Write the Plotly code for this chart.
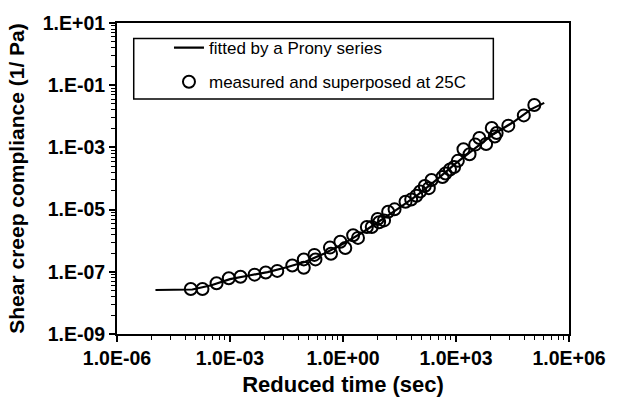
import plotly.graph_objects as go

# Prony-series fit of the shear creep compliance master curve
fit_time = [1.05e-5, 1.0e-4, 3.2e-4, 1.0e-3, 3.2e-3, 1.0e-2, 3.2e-2, 0.1, 0.32, 1.0,
            3.2, 10.0, 32.0, 100.0, 320.0, 1.0e3, 3.2e3, 1.0e4, 3.2e4, 1.0e5, 2.2e5]
fit_compliance = [2.6e-8, 2.7e-8, 3.7e-8, 5.8e-8, 7.6e-8, 9.8e-8, 1.4e-7, 2.1e-7, 3.9e-7, 7.9e-7,
                  1.8e-6, 4.4e-6, 1.15e-5, 3.1e-5, 9.5e-5, 3.1e-4, 9.3e-4, 2.7e-3, 6.3e-3, 1.7e-2, 2.7e-2]

# Measured creep data shifted to the 25C reference temperature
meas_time = [9.1e-5, 1.86e-4, 4.4e-4, 9.3e-4, 1.9e-3, 4.5e-3, 8.9e-3, 1.8e-2, 4.5e-2, 9.1e-2,
             9.1e-2, 0.174, 0.186, 0.45, 0.48, 0.85, 1.15, 1.86, 2.5, 4.3,
             5.8, 8.3, 9.1, 12.3, 15.8, 23.4, 45.7, 64.6, 89.0, 112.0,
             148.0, 190.0, 224.0, 437.0, 525.0, 692.0, 891.0, 1120.0, 1580.0, 2290.0,
             3240.0, 4170.0, 6310.0, 8910.0, 10700.0, 12000.0, 24500.0, 63100.0, 120000.0]
meas_compliance = [2.8e-8, 2.8e-8, 4.3e-8, 6.2e-8, 6.9e-8, 8.1e-8, 9.5e-8, 1.07e-7, 1.6e-7, 2.5e-7,
                   1.35e-7, 3.5e-7, 2.5e-7, 6.0e-7, 3.8e-7, 9.3e-7, 5.8e-7, 1.5e-6, 1.23e-6, 2.75e-6,
                   2.75e-6, 5.0e-6, 3.9e-6, 4.5e-6, 8.5e-6, 1.02e-5, 1.78e-5, 2.1e-5, 2.8e-5, 3.8e-5,
                   5.75e-5, 4.9e-5, 8.9e-5, 1.12e-4, 1.45e-4, 1.95e-4, 2.35e-4, 3.7e-4, 8.7e-4, 6.0e-4,
                   1.23e-3, 2.0e-3, 1.29e-3, 4.2e-3, 2.24e-3, 2.9e-3, 5.0e-3, 1.07e-2, 2.3e-2]

# Axis tick values and labels
x_tickvals = [1e-6, 1e-3, 1e0, 1e3, 1e6]
x_ticktext = ["1.0E-06", "1.0E-03", "1.0E+00", "1.0E+03", "1.0E+06"]
y_tickvals = [1e-9, 1e-7, 1e-5, 1e-3, 1e-1, 1e1]
y_ticktext = ["1.E-09", "1.E-07", "1.E-05", "1.E-03", "1.E-01", "1.E+01"]

# Minor ticks: 2..9 steps inside each major interval (base 1000 on x, base 100 on y)
x_minor = [v * k ** 3 for v in x_tickvals[:-1] for k in range(2, 10)]
y_minor = [v * k ** 2 for v in y_tickvals[:-1] for k in range(2, 10)]

FONT = "Liberation Sans, Arial, sans-serif"

fig = go.Figure()
fig.add_trace(go.Scatter(
    x=fit_time, y=fit_compliance, mode="lines",
    name="fitted by a Prony series",
    line=dict(color="black", width=2.2),
    legendgroup="a",
))
fig.add_trace(go.Scatter(
    x=meas_time, y=meas_compliance, mode="markers",
    name="measured and superposed at 25C",
    marker=dict(symbol="circle-open", size=12, color="black", line=dict(width=2, color="black")),
    legendgroup="b",
))

axis_common = dict(
    type="log", showgrid=False, zeroline=False,
    showline=True, linecolor="black", linewidth=2, mirror=True,
    ticks="outside", ticklen=6, tickwidth=1.5, tickcolor="black",
    tickfont=dict(family=FONT, size=19.5, color="black", weight="bold"),
)

fig.update_xaxes(
    **axis_common,
    range=[-6, 6], tickmode="array", tickvals=x_tickvals, ticktext=x_ticktext,
    minor=dict(tickvals=x_minor, ticks="outside", ticklen=4, tickwidth=1, tickcolor="black"),
    title=dict(text="Reduced time (sec)", font=dict(family=FONT, size=22, color="black", weight="bold"),
               standoff=8),
)
fig.update_yaxes(
    **axis_common,
    range=[-9, 1], tickmode="array", tickvals=y_tickvals, ticktext=y_ticktext,
    minor=dict(tickvals=y_minor, ticks="outside", ticklen=4, tickwidth=1, tickcolor="black"),
    title=dict(text="Shear creep compliance (1/ Pa)",
               font=dict(family=FONT, size=21, color="black", weight="bold"), standoff=12),
)

# Legend frame
fig.add_shape(type="rect", xref="paper", yref="paper",
              x0=0.037, x1=0.8326, y0=0.756, y1=0.95,
              line=dict(color="black", width=1.5), fillcolor="rgba(0,0,0,0)")

fig.update_layout(
    width=618, height=405,
    margin=dict(l=117, r=41, t=15, b=70),
    paper_bgcolor="white", plot_bgcolor="white",
    showlegend=True,
    legend=dict(
        x=0.115, y=0.977, xanchor="left", yanchor="top",
        bgcolor="rgba(0,0,0,0)", borderwidth=0,
        font=dict(family=FONT, size=17, color="black"),
        tracegroupgap=9,
    ),
)

fig.write_html("out.html")
